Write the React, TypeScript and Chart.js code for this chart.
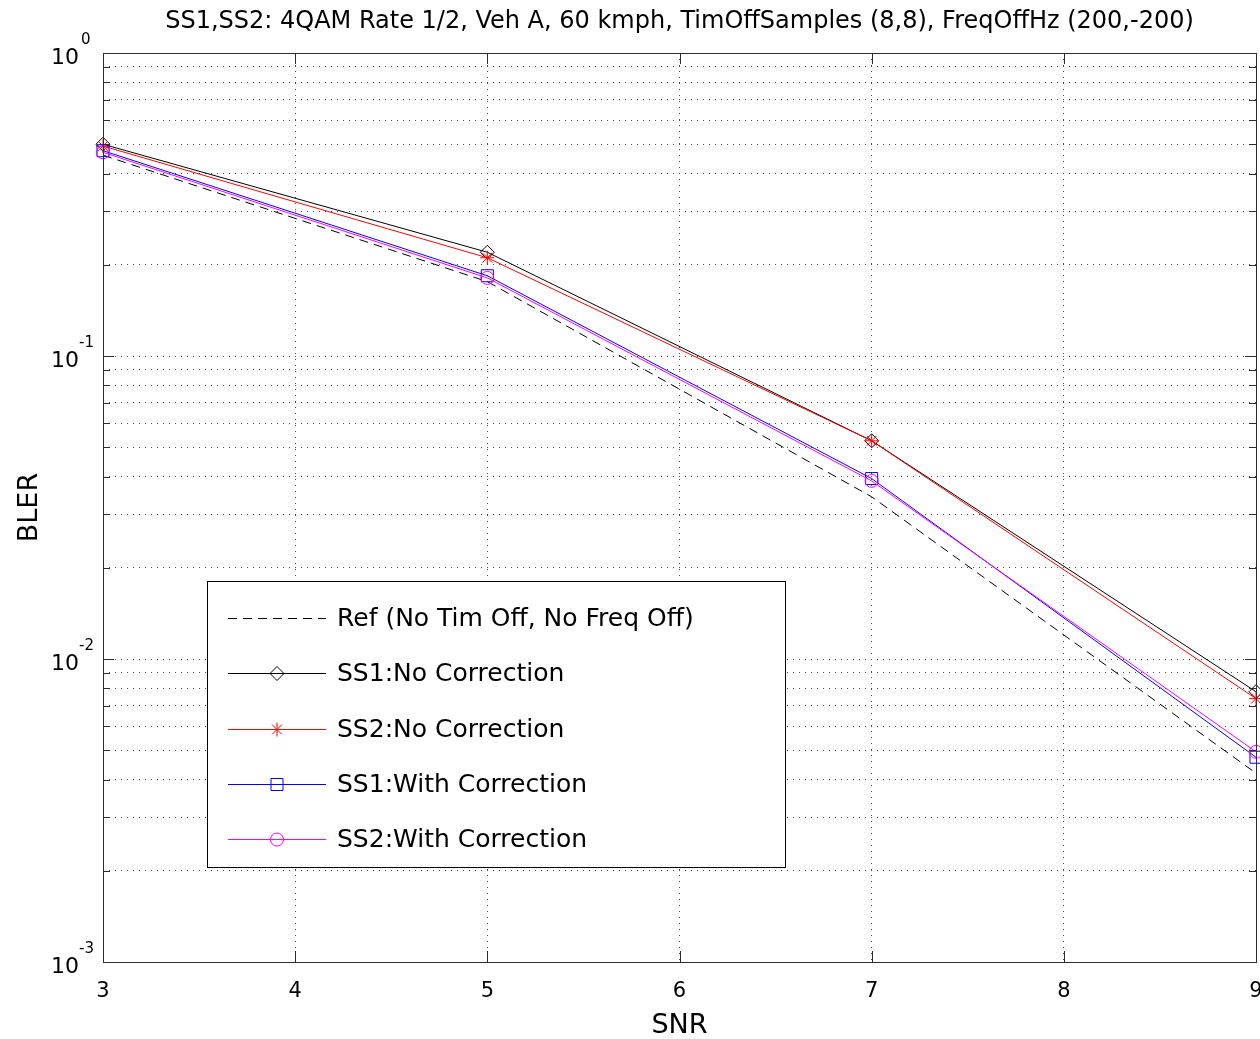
import React, { useEffect, useRef } from "react";
import { Chart, registerables } from "chart.js";

Chart.register(...registerables);

const TITLE = "SS1,SS2: 4QAM Rate 1/2, Veh A, 60 kmph, TimOffSamples (8,8), FreqOffHz (200,-200)";
const X_LABEL = "SNR";
const Y_LABEL = "BLER";

const snr = [3, 5, 7, 9];
const refBler = [0.46, 0.176, 0.0343, 0.0042];
const ss1NoCorr = [0.5, 0.22, 0.0525, 0.0078];
const ss2NoCorr = [0.493, 0.211, 0.0525, 0.0074];
const ss1WithCorr = [0.476, 0.184, 0.0394, 0.00474];
const ss2WithCorr = [0.47, 0.181, 0.0387, 0.00494];

const seriesLabels = [
  "Ref (No Tim Off, No Freq Off)",
  "SS1:No Correction",
  "SS2:No Correction",
  "SS1:With Correction",
  "SS2:With Correction",
];

const xTicks = [3, 4, 5, 6, 7, 8, 9];
const yDecadeExponents = [-3, -2, -1, 0];
const yMinorMultipliers = [2, 3, 4, 5, 6, 7, 8, 9];

const FONT = "'DejaVu Sans', 'Liberation Sans', sans-serif";
const AXIS_COLOR = "#2e2e2e";
const GRID_COLOR = "#4a4a4a";

function pts(ys: number[]) {
  return snr.map((x, i) => ({ x, y: ys[i] }));
}

function drawMarker(ctx: CanvasRenderingContext2D, style: string, x: number, y: number, r: number) {
  ctx.beginPath();
  if (style === "rectRot") {
    ctx.moveTo(x - r, y);
    ctx.lineTo(x, y - r);
    ctx.lineTo(x + r, y);
    ctx.lineTo(x, y + r);
    ctx.closePath();
  } else if (style === "rect") {
    const s = r * Math.SQRT1_2;
    ctx.rect(x - s, y - s, 2 * s, 2 * s);
  } else if (style === "circle") {
    ctx.arc(x, y, r, 0, Math.PI * 2);
  } else if (style === "star") {
    for (let k = 0; k < 4; k++) {
      const a = (k * Math.PI) / 4;
      ctx.moveTo(x - Math.cos(a) * r, y - Math.sin(a) * r);
      ctx.lineTo(x + Math.cos(a) * r, y + Math.sin(a) * r);
    }
  }
  ctx.stroke();
}

const decorPlugin = {
  id: "matlabDecor",
  afterDraw(chart: any) {
    const ctx: CanvasRenderingContext2D = chart.ctx;
    const { left, right, top, bottom } = chart.chartArea;
    const xs = chart.scales.x;
    const ys = chart.scales.y;
    const al = (v: number) => Math.round(v) + 0.5;
    ctx.save();
    // frame
    ctx.strokeStyle = AXIS_COLOR;
    ctx.lineWidth = 1;
    ctx.setLineDash([]);
    ctx.strokeRect(al(left), al(top), Math.round(right) - Math.round(left), Math.round(bottom) - Math.round(top));
    // inward ticks
    ctx.beginPath();
    const majorLen = 11;
    const minorLen = 7;
    xTicks.forEach((v) => {
      const px = al(xs.getPixelForValue(v));
      ctx.moveTo(px, bottom);
      ctx.lineTo(px, bottom - majorLen);
      ctx.moveTo(px, top);
      ctx.lineTo(px, top + majorLen);
    });
    yDecadeExponents.forEach((e) => {
      const py = al(ys.getPixelForValue(Math.pow(10, e)));
      ctx.moveTo(left, py);
      ctx.lineTo(left + majorLen, py);
      ctx.moveTo(right, py);
      ctx.lineTo(right - majorLen, py);
      if (e < 0) {
        yMinorMultipliers.forEach((m) => {
          const pm = al(ys.getPixelForValue(m * Math.pow(10, e)));
          ctx.moveTo(left, pm);
          ctx.lineTo(left + minorLen, pm);
          ctx.moveTo(right, pm);
          ctx.lineTo(right - minorLen, pm);
        });
      }
    });
    ctx.stroke();

    // y tick labels 10^e
    ctx.fillStyle = "#000";
    yDecadeExponents.forEach((e) => {
      const py = ys.getPixelForValue(Math.pow(10, e));
      ctx.font = `22px ${FONT}`;
      ctx.textAlign = "right";
      ctx.textBaseline = "alphabetic";
      ctx.fillText("10", 79, py + 11);
      ctx.font = `15px ${FONT}`;
      ctx.textAlign = "left";
      ctx.fillText(String(e), e === 0 ? 81 : 79, py - 9);
    });

    // legend
    const bx = 207, by = 581, bw = 578, bh = 286;
    ctx.fillStyle = "#fff";
    ctx.fillRect(bx, by, bw, bh);
    ctx.strokeStyle = "#000";
    ctx.lineWidth = 1;
    ctx.strokeRect(bx + 0.5, by + 0.5, bw, bh);
    const rowStart = by + 37;
    const rowGap = 55.3;
    chart.data.datasets.forEach((ds: any, i: number) => {
      const ry = Math.round(rowStart + i * rowGap) + 0.5;
      ctx.strokeStyle = ds.borderColor;
      ctx.lineWidth = 1;
      ctx.setLineDash(ds.borderDash || []);
      ctx.beginPath();
      ctx.moveTo(228, ry);
      ctx.lineTo(326, ry);
      ctx.stroke();
      ctx.setLineDash([]);
      if (ds.pointRadius > 0) {
        ctx.strokeStyle = ds.pointBorderColor;
        drawMarker(ctx, ds.pointStyle, 277, ry, ds.pointRadius);
      }
      ctx.fillStyle = "#000";
      ctx.font = `25px ${FONT}`;
      ctx.textAlign = "left";
      ctx.textBaseline = "middle";
      ctx.fillText(ds.label, 337, ry + 1);
    });
    ctx.restore();
  },
};

export default function App() {
  const ref = useRef<HTMLCanvasElement | null>(null);

  useEffect(() => {
    if (!ref.current) return;
    const mk = (label: string, data: number[], color: string, style: string | false, radius: number, order: number, dash?: number[]) => ({
      label,
      data: pts(data),
      borderColor: color,
      backgroundColor: color,
      borderWidth: 1,
      borderDash: dash || [],
      pointStyle: style || "circle",
      pointRadius: style ? radius : 0,
      pointHoverRadius: style ? radius : 0,
      pointBorderColor: color,
      pointBackgroundColor: "rgba(0,0,0,0)",
      pointBorderWidth: 1,
      tension: 0,
      fill: false,
      clip: false as any,
      order,
    });

    const chart = new Chart(ref.current, {
      type: "line",
      data: {
        datasets: [
          mk(seriesLabels[0], refBler, "#000000", false, 0, 5, [9, 6]),
          mk(seriesLabels[1], ss1NoCorr, "#000000", "rectRot", 7, 4),
          mk(seriesLabels[2], ss2NoCorr, "#ff0000", "star", 7, 3),
          mk(seriesLabels[3], ss1WithCorr, "#0000ff", "rect", 8.5, 2),
          mk(seriesLabels[4], ss2WithCorr, "#ff00ff", "circle", 6.5, 1),
        ] as any,
      },
      options: {
        responsive: false,
        animation: false,
        devicePixelRatio: 1,
        layout: { autoPadding: false, padding: { left: 0, right: 4, top: 0, bottom: 0 } },
        plugins: {
          legend: { display: false },
          tooltip: { enabled: false },
          title: {
            display: true,
            fullSize: false,
            text: TITLE,
            color: "#000",
            font: { family: FONT, size: 24, weight: "normal", lineHeight: 1.2 },
            padding: { top: 7, bottom: 17.2 },
          },
        },
        scales: {
          x: {
            type: "linear",
            position: "bottom",
            min: 3,
            max: 9,
            afterBuildTicks: (s: any) => {
              s.ticks = xTicks.map((v) => ({ value: v }));
            },
            ticks: {
              color: "#000",
              font: { family: FONT, size: 21, lineHeight: 1 },
              padding: 19.5,
              maxRotation: 0,
              autoSkip: false,
            },
            grid: { color: GRID_COLOR, lineWidth: 1, drawTicks: false },
            border: { display: false, dash: [1, 5] },
            title: {
              display: true,
              text: X_LABEL,
              color: "#000",
              font: { family: FONT, size: 27, lineHeight: 1 },
              padding: { top: 0, bottom: 0 },
            },
            afterFit: (s: any) => {
              s.height = 77;
              s.paddingLeft = 0;
              s.paddingRight = 0;
            },
          },
          y: {
            type: "logarithmic",
            min: 0.001,
            max: 1,
            afterBuildTicks: (s: any) => {
              const t: any[] = [];
              yDecadeExponents.forEach((e) => {
                t.push({ value: Math.pow(10, e), major: true });
                if (e < 0) yMinorMultipliers.forEach((m) => t.push({ value: m * Math.pow(10, e), major: false }));
              });
              t.sort((a, b) => a.value - b.value);
              s.ticks = t;
            },
            ticks: { display: false },
            grid: { color: GRID_COLOR, lineWidth: 1, drawTicks: false },
            border: { display: false, dash: [1, 5] },
            title: {
              display: true,
              text: Y_LABEL,
              color: "#000",
              font: { family: FONT, size: 27, lineHeight: 1 },
              padding: { top: 16.5, bottom: 0 },
            },
            afterFit: (s: any) => {
              s.width = 103;
              s.paddingTop = 0;
              s.paddingBottom = 0;
            },
          },
        },
      } as any,
      plugins: [decorPlugin],
    });
    return () => chart.destroy();
  }, []);

  return (
    <div style={{ position: "fixed", left: 0, top: 0, width: 1260, height: 1039, background: "#fff" }}>
      <canvas ref={ref} width={1260} height={1039} style={{ display: "block" }} />
    </div>
  );
}
